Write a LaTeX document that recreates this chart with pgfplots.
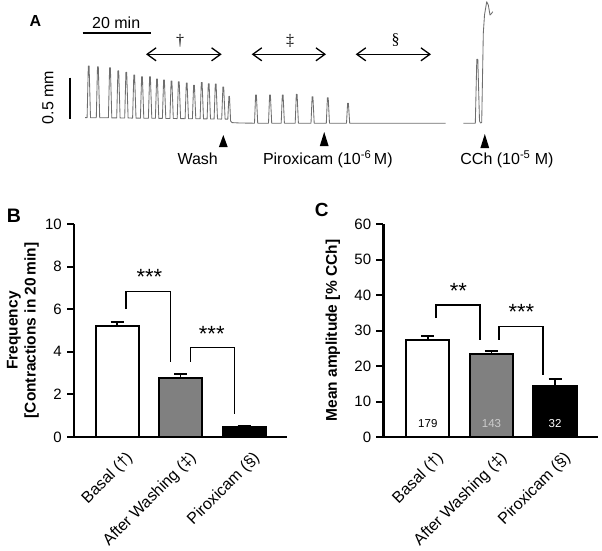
\documentclass[border=0pt]{standalone}
\usepackage{pgfplots}
\pgfplotsset{compat=1.18}
\usepackage{fontspec}
\setmainfont{Liberation Sans}
\newfontfamily\serifsym{Liberation Serif}
\usetikzlibrary{arrows.meta}
\definecolor{barfill}{RGB}{128,128,128}
\definecolor{tracecol}{RGB}{110,110,110}
\newcommand\fs{\fontsize{15}{18}\selectfont}
\newcommand\fsx{\fontsize{16}{19}\selectfont}
\newcommand\fsA{\fontsize{16}{19}\selectfont}
\tikzset{brk/.style={line width=1.3pt}}
\pgfplotsset{
  barpanel/.style={
    scale only axis, anchor=south west, clip=false,
    axis x line=bottom, axis y line=left,
    axis line style={-, line width=2.5pt, black},
    xtick={0,1,2},
    xticklabels={Basal (†),After Washing (‡),Piroxicam (§)},
    xtick style={draw=none},
    ytick style={line width=2pt, black},
    major tick length=7pt, tick align=outside,
    xticklabel style={rotate=45, anchor=north east, inner sep=1pt, font=\fsx, yshift=-9pt, xshift=2pt},
    yticklabel style={font=\fs},
    /pgf/number format/assume math mode=true,
    ylabel style={anchor=center, align=center, font=\fontsize{15.5}{18}\selectfont\bfseries},
  },
  mybar/.style={ybar, bar width=0.68, bar shift=0pt, draw=black, line width=2pt,
    error bars/y dir=plus, error bars/y explicit,
    error bars/error bar style={line width=1.5pt, black},
    error bars/error mark options={rotate=90, mark size=6.5pt, line width=1.8pt, black}},
}
\begin{document}
\fs
\begin{tikzpicture}
\useasboundingbox (0pt,0pt) rectangle (602pt,550pt);
% ---------------- Panel A (trace), axis in image pixel coordinates
\begin{axis}[at={(0pt,0pt)}, anchor=south west, scale only axis,
  width=602pt, height=550pt, xmin=0, xmax=602, ymin=0, ymax=550,
  y dir=reverse, hide axis, clip=false]
\addplot[tracecol, line width=0.85pt, line join=round] coordinates {
(85,117.6)
(87.1,117.6)(88.3,66)(89.1,66)(90.5,117.7)
(96.3,117.7)(97.5,66.7)(98.3,66.7)(99.7,117.8)
(108.4,117.8)(109.6,67.8)(110.4,67.8)(111.8,117.9)
(116.7,117.9)(117.9,70.8)(118.7,70.8)(120.1,118)
(124.7,118)(125.9,72.3)(126.7,72.3)(128.1,118)
(132.6,118.1)(133.8,75)(134.6,75)(136,118.1)
(140.4,118.2)(141.6,76.8)(142.4,76.8)(143.8,118.2)
(148.4,118.3)(149.6,76.7)(150.4,76.7)(151.8,118.3)
(155.4,118.3)(156.6,79)(157.4,79)(158.8,118.4)
(162.4,118.4)(163.6,80)(164.4,80)(165.8,118.5)
(169.9,118.5)(171.1,81)(171.9,81)(173.3,118.5)
(177.2,118.6)(178.4,81.7)(179.2,81.7)(180.6,118.6)
(185.1,118.7)(186.3,83)(187.1,83)(188.5,118.7)
(192.4,118.8)(193.6,85.3)(194.4,85.3)(195.8,118.8)
(200.1,118.8)(201.3,82.5)(202.1,82.5)(203.5,118.9)
(207.1,118.9)(208.3,83.7)(209.1,83.7)(210.5,119)
(214.1,119)(215.3,84)(216.1,84)(217.5,119)
(221.7,119.1)(222.9,87)(223.7,87)(225.1,119.1)
(227.8,119.2)(228.9,96.3)(229.5,96.3)(230.6,121)(232,122.6)(240,123)
(254.5,123.2)(255.6,95)(256.4,95)(257.7,123.2)
(268.5,123.2)(269.6,95)(270.4,95)(271.7,123.2)
(281.2,123.2)(282.3,95)(283.1,95)(284.4,123.2)
(295.2,123.2)(296.3,94.3)(297.1,94.3)(298.4,123.2)
(311,123.3)(312.1,96.7)(312.9,96.7)(314.2,123.3)
(326.3,123.3)(327.4,97.7)(328.2,97.7)(329.5,123.3)
(346.5,123.3)(347.6,103.3)(348.4,103.3)(349.7,123.3)
(445.7,123.3)
};
\addplot[tracecol, line width=0.85pt, line join=round] coordinates {
(463.3,123.3)(475.3,123.3)(476.8,59.3)(477.8,59.3)(479.5,121)(480.5,123)
(481.7,122.5)(483.3,33.3)(484.5,15)(486.7,1.7)(488.3,5)(490,15)(491.7,13.3)(492.7,11.7)
};
% scale bars
\draw[line width=2pt] (axis cs:82.7,33.3) -- (axis cs:150.7,33.3);
\draw[line width=2.5pt] (axis cs:70,77.7) -- (axis cs:70,119);
\node[font=\fsA, anchor=base] at (axis cs:116.2,28.3) {20 min};
\node[font=\fsA, anchor=base, rotate=90] at (axis cs:53.3,97.5) {0.5 mm};
% period arrows
\draw[line width=1.3pt, {Straight Barb[length=9pt,width=13pt]}-{Straight Barb[length=9pt,width=13pt]}] (axis cs:146,54.3) -- (axis cs:221.7,54.3);
\draw[line width=1.3pt, {Straight Barb[length=9pt,width=13pt]}-{Straight Barb[length=9pt,width=13pt]}] (axis cs:251.7,54.3) -- (axis cs:326,54.3);
\draw[line width=1.3pt, {Straight Barb[length=9pt,width=13pt]}-{Straight Barb[length=9pt,width=13pt]}] (axis cs:355.7,54.3) -- (axis cs:431,54.3);
\node[font=\serifsym\fontsize{16}{18}\selectfont] at (axis cs:180,41) {†};
\node[font=\serifsym\fontsize{16}{18}\selectfont] at (axis cs:290,41) {‡};
\node[font=\serifsym\fontsize{16}{18}\selectfont] at (axis cs:395.7,40) {§};
% arrowheads
\fill (axis cs:218.9,147) -- (axis cs:227.7,147) -- (axis cs:223.3,135) -- cycle;
\fill (axis cs:319.8,146) -- (axis cs:328.6,146) -- (axis cs:324.2,132) -- cycle;
\fill (axis cs:480.4,148) -- (axis cs:489.2,148) -- (axis cs:484.8,134) -- cycle;
\node[font=\fsA, anchor=base] at (axis cs:197.7,164.5) {Wash};
\node[font=\fsA, anchor=base] at (axis cs:327.8,164.5) {Piroxicam (10\textsuperscript{-6}\,M)};
\node[font=\fsA, anchor=base] at (axis cs:507,164.5) {CCh (10\textsuperscript{-5} M)};
% panel letters
\node[font=\fontsize{16}{19}\selectfont\bfseries] at (axis cs:35.5,20.5) {A};
\node[font=\fontsize{19.5}{22}\selectfont\bfseries] at (axis cs:14,215.3) {B};
\node[font=\fontsize{19}{22}\selectfont\bfseries] at (axis cs:321.7,210) {C};
\end{axis}
% ---------------- Panel B
\begin{axis}[barpanel, at={(74pt,113pt)}, width=213.3pt, height=213pt,
  xmin=-0.68, xmax=2.68, ymin=0, ymax=10, ytick={0,2,...,10},
  ylabel={Frequency\\{[Contractions in 20\,min]}},
  ylabel style={at={(axis description cs:-0.24,0.5)}}]
\addplot[mybar, fill=white] coordinates {(0,5.2) +- (0,0.2)};
\addplot[mybar, fill=barfill] coordinates {(1,2.75) +- (0,0.2)};
\addplot[mybar, fill=black] coordinates {(2,0.45) +- (0,0.07)};
\draw[brk] (axis cs:0.14,6.0) |- (axis cs:0.835,6.82) -- (axis cs:0.835,3.53);
\draw[brk] (axis cs:1.15,3.53) |- (axis cs:1.847,4.19) -- (axis cs:1.847,1.08);
\node[font=\fontsize{22}{24}\selectfont, yshift=-4.9pt] at (axis cs:0.507,7.74) {***};
\node[font=\fontsize{22}{24}\selectfont, yshift=-4.9pt] at (axis cs:1.49,5.09) {***};
\end{axis}
% ---------------- Panel C
\begin{axis}[barpanel, at={(383.3pt,113pt)}, width=214.4pt, height=212.7pt,
  xmin=-0.70, xmax=2.67, ymin=0, ymax=60, ytick={0,10,...,60},
  ylabel={Mean amplitude [\% CCh]},
  ylabel style={at={(axis description cs:-0.235,0.5)}}]
\addplot[mybar, fill=white] coordinates {(0,27.4) +- (0,1.0)};
\addplot[mybar, fill=barfill] coordinates {(1,23.4) +- (0,0.9)};
\addplot[mybar, fill=black] coordinates {(2,14.5) +- (0,1.8)};
\node[font=\fontsize{11.5}{13}\selectfont] at (axis cs:0,3.7) {179};
\node[font=\fontsize{11.5}{13}\selectfont, text=black!20] at (axis cs:1,3.7) {143};
\node[font=\fontsize{11.5}{13}\selectfont, text=white] at (axis cs:2,3.7) {32};
\draw[brk] (axis cs:0.13,33.5) |- (axis cs:0.82,37.2) -- (axis cs:0.82,27.4);
\draw[brk] (axis cs:1.12,27.4) |- (axis cs:1.81,31.1) -- (axis cs:1.81,17.5);
\node[font=\fontsize{22}{24}\selectfont, yshift=-4.9pt] at (axis cs:0.48,42.5) {**};
\node[font=\fontsize{22}{24}\selectfont, yshift=-4.9pt] at (axis cs:1.47,36.7) {***};
\end{axis}
\end{tikzpicture}
\end{document}
